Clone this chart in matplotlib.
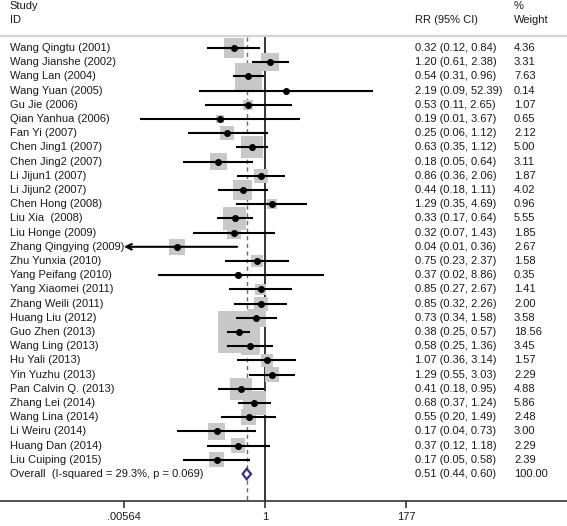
import numpy as np
import matplotlib
matplotlib.use("Agg")
import matplotlib.pyplot as plt
from matplotlib import transforms
from matplotlib.patches import Polygon

plt.rcParams['font.family'] = ['Liberation Sans', 'DejaVu Sans']

# ==============================
# Study data
# ==============================
studies = [
    "Wang Qingtu (2001)", "Wang Jianshe (2002)", "Wang Lan (2004)",
    "Wang Yuan (2005)", "Gu Jie (2006)", "Qian Yanhua (2006)",
    "Fan Yi (2007)", "Chen Jing1 (2007)", "Chen Jing2 (2007)",
    "Li Jijun1 (2007)", "Li Jijun2 (2007)", "Chen Hong (2008)",
    "Liu Xia  (2008)", "Liu Honge (2009)", "Zhang Qingying (2009)",
    "Zhu Yunxia (2010)", "Yang Peifang (2010)", "Yang Xiaomei (2011)",
    "Zhang Weili (2011)", "Huang Liu (2012)", "Guo Zhen (2013)",
    "Wang Ling (2013)", "Hu Yali (2013)", "Yin Yuzhu (2013)",
    "Pan Calvin Q. (2013)", "Zhang Lei (2014)", "Wang Lina (2014)",
    "Li Weiru (2014)", "Huang Dan (2014)", "Liu Cuiping (2015)",
]
rr = [0.32, 1.20, 0.54, 2.19, 0.53, 0.19, 0.25, 0.63, 0.18, 0.86,
      0.44, 1.29, 0.33, 0.32, 0.04, 0.75, 0.37, 0.85, 0.85, 0.73,
      0.38, 0.58, 1.07, 1.29, 0.41, 0.68, 0.55, 0.17, 0.37, 0.17]
ci_low = [0.12, 0.61, 0.31, 0.09, 0.11, 0.01, 0.06, 0.35, 0.05, 0.36,
          0.18, 0.35, 0.17, 0.07, 0.01, 0.23, 0.02, 0.27, 0.32, 0.34,
          0.25, 0.25, 0.36, 0.55, 0.18, 0.37, 0.20, 0.04, 0.12, 0.05]
ci_high = [0.84, 2.38, 0.96, 52.39, 2.65, 3.67, 1.12, 1.12, 0.64, 2.06,
           1.11, 4.69, 0.64, 1.43, 0.36, 2.37, 8.86, 2.67, 2.26, 1.58,
           0.57, 1.36, 3.14, 3.03, 0.95, 1.24, 1.49, 0.73, 1.18, 0.58]
weight = [4.36, 3.31, 7.63, 0.14, 1.07, 0.65, 2.12, 5.00, 3.11, 1.87,
          4.02, 0.96, 5.55, 1.85, 2.67, 1.58, 0.35, 1.41, 2.00, 3.58,
          18.56, 3.45, 1.57, 2.29, 4.88, 5.86, 2.48, 3.00, 2.29, 2.39]

overall_label = "Overall  (I-squared = 29.3%, p = 0.069)"
overall_rr, overall_low, overall_high = 0.51, 0.44, 0.60
overall_weight = 100.00

tick_vals = [0.00564, 1, 177]
tick_labels = [".00564", "1", "177"]

txt_col = "#1a1a1a"
fs = 8.05

# ==============================
# Layout: one axes over the figure, log x, rows on y
# ==============================
fig = plt.figure(figsize=(5.67, 5.26), dpi=100)
W, H = 567, 526
axis_px = 501          # pixel row of the x axis line
row0, drow = 48, 14.2  # first study row, row spacing (pixels)
ax = fig.add_axes([0, (H - axis_px) / H, 1, axis_px / H])

px_per_ln = 141 / np.log(177)
ax.set_xscale("log")
ax.set_xlim(np.exp(-265 / px_per_ln), np.exp((W - 265) / px_per_ln))
ytop = -row0 / drow
ybot = (axis_px - row0) / drow
ax.set_ylim(ybot, ytop)

for s in ["top", "left", "right"]:
    ax.spines[s].set_visible(False)
ax.spines["bottom"].set_color("#333333")
ax.spines["bottom"].set_linewidth(1.2)
ax.set_yticks([])
ax.set_xticks(tick_vals)
ax.set_xticklabels(tick_labels, fontsize=fs, color=txt_col)
ax.xaxis.set_minor_locator(matplotlib.ticker.NullLocator())
ax.tick_params(axis="x", direction="out", length=5, width=1.2,
               color="#333333", pad=3)

trans = transforms.blended_transform_factory(ax.transAxes, ax.transData)

# header
sep_y = (36 - row0) / drow
ax.axhline(sep_y, color="#d4d4d4", lw=1.6)
h1 = (6 - row0) / drow
h2 = (20 - row0) / drow
ax.text(0.0176, h1, "Study", transform=trans, fontsize=fs, color=txt_col, va="center")
ax.text(0.0176, h2, "ID", transform=trans, fontsize=fs, color=txt_col, va="center")
ax.text(0.732, h2, "RR (95% CI)", transform=trans, fontsize=fs, color=txt_col, va="center")
ax.text(0.9065, h1, "%", transform=trans, fontsize=fs, color=txt_col, va="center")
ax.text(0.9065, h2, "Weight", transform=trans, fontsize=fs, color=txt_col, va="center")

# reference lines
ax.vlines(1, sep_y + 0.1, ybot, color="black", lw=1.1, zorder=1)
ax.vlines(overall_rr, sep_y + 0.1, ybot, color="#a8505c", lw=1.0,
          linestyles=(0, (3, 2.5)), zorder=1)

# studies
y = np.arange(len(studies))
xmin_axis = tick_vals[0]
ax.scatter(rr, y, marker="s", s=[49.8 * w for w in weight], color="#c8c8c8",
           linewidths=0, zorder=2)
for i in range(len(studies)):
    lo = ci_low[i]
    if studies[i].startswith("Zhang Qingying"):
        # CI runs past the left edge of the scale -> arrow
        ax.annotate("", xy=(xmin_axis, i), xytext=(ci_high[i], i),
                    arrowprops=dict(arrowstyle="->", lw=1.5, color="black",
                                    mutation_scale=10, shrinkA=0, shrinkB=0),
                    zorder=3)
    else:
        ax.hlines(i, lo, ci_high[i], color="black", lw=1.5, zorder=3)
    ax.text(0.0176, i, studies[i], transform=trans, fontsize=fs, color=txt_col, va="center")
    ax.text(0.732, i, f"{rr[i]:.2f} ({ci_low[i]:.2f}, {ci_high[i]:.2f})",
            transform=trans, fontsize=fs, color=txt_col, va="center")
    ax.text(0.9065, i, f"{weight[i]:.2f}", transform=trans, fontsize=fs,
            color=txt_col, va="center")
ax.scatter(rr, y, marker="o", s=16, color="black", zorder=4)

# overall diamond
yo = len(studies)
dh = 5.2 / drow
diamond = Polygon([(overall_low, yo), (overall_rr, yo - dh),
                   (overall_high, yo), (overall_rr, yo + dh)],
                  closed=True, facecolor="white", edgecolor="#3c2d80",
                  lw=1.6, zorder=5)
ax.add_patch(diamond)
ax.text(0.0176, yo, overall_label, transform=trans, fontsize=fs, color=txt_col, va="center")
ax.text(0.732, yo, f"{overall_rr:.2f} ({overall_low:.2f}, {overall_high:.2f})",
        transform=trans, fontsize=fs, color=txt_col, va="center")
ax.text(0.9065, yo, f"{overall_weight:.2f}", transform=trans, fontsize=fs,
        color=txt_col, va="center")

fig.savefig("out.png", dpi=100)
